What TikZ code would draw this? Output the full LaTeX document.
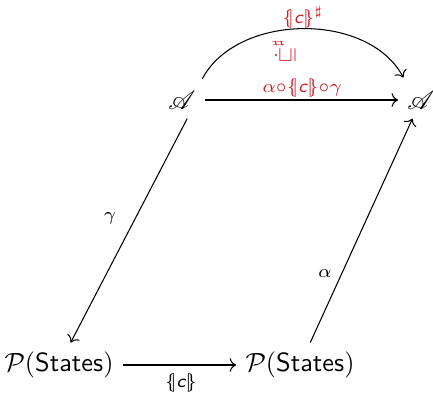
\documentclass[tikz,border=0pt]{standalone}
\usepackage{amsmath,amssymb,mathrsfs,graphicx}
\usetikzlibrary{arrows.meta}
\definecolor{lred}{RGB}{208,32,40}
\newcommand{\semc}{\{\mkern-4.5mu|\textsf{\itshape c}|\mkern-4.5mu\}}
\begin{document}
\begin{tikzpicture}[x=0.38pt,y=-0.38pt,>={Computer Modern Rightarrow},
  lbl/.style={inner sep=1pt},
  redlbl/.style={lbl,text=lred},
  arr/.style={->,line width=0.4pt}]
\useasboundingbox (0,0) rectangle (433,392);
\node (A1) at (182,100) {$\mathscr{A}$};
\node (A2) at (421,100) {$\mathscr{A}$};
\node (P1) at (59,365) {$\mathcal{P}(\textsf{States})$};
\node (P2) at (300,365) {$\mathcal{P}(\textsf{States})$};
\draw[arr] (A1) -- (A2);
\draw[arr] ([xshift=-1pt,yshift=1pt]A1.north east) .. controls +(35,-66) and +(-35,-66) .. ([xshift=2pt,yshift=1.5pt]A2.north west);
\draw[arr] ([xshift=2pt]A1.south) -- (P1);
\draw[arr] (P2) -- (A2);
\draw[arr] (P1) -- (P2);
\node[redlbl] (l1) at (303,17) {$\scriptstyle\semc^\sharp$};
\node[redlbl,rotate=90] (l2) at (284,51) {$\scriptstyle\dot\sqsubseteq^\sharp$};
\node[redlbl] (l3) at (302,88) {$\scriptstyle\alpha\circ\semc\circ\gamma$};
\node[lbl] (l4) at (110,218) {$\scriptstyle\gamma$};
\node[lbl] (l5) at (325,274) {$\scriptstyle\alpha$};
\node[lbl] (l6) at (181,383) {$\scriptstyle\semc$};
\end{tikzpicture}
\end{document}
